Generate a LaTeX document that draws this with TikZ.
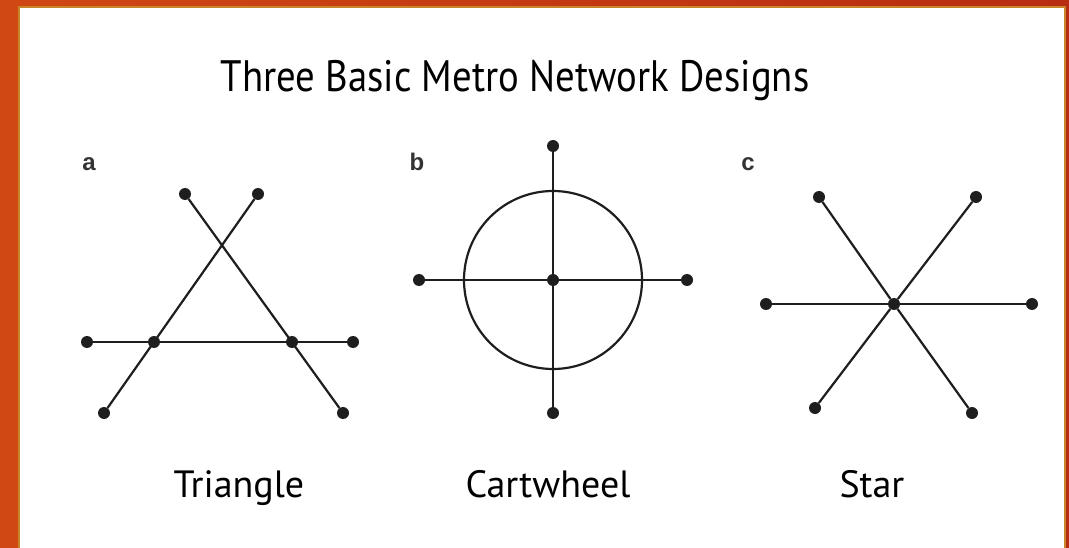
\documentclass[tikz,border=0pt]{standalone}
\usepackage{fontspec}
\setmainfont{PT Sans}
\newfontfamily\headfont[FakeStretch=0.88]{PT Sans}
\newfontfamily\figfont{Liberation Sans}
\usetikzlibrary{positioning}
\definecolor{corange}{HTML}{D04814}
\definecolor{cred}{HTML}{B82C12}
\definecolor{cgold}{HTML}{C8862A}
\definecolor{cink}{HTML}{1E1E1E}
\tikzset{
  every picture/.style={x=1pt, y=-1pt},
  dot/.style={circle, fill=cink, inner sep=0pt, minimum size=12pt},
  link/.style={draw=cink, line width=2.2pt},
  tag/.style={font=\figfont\bfseries\fontsize{24}{24}\selectfont, text=black!80, anchor=base},
  caption/.style={font=\fontsize{38}{38}\selectfont, anchor=base west},
  title/.style={font=\headfont\fontsize{44}{44}\selectfont, anchor=base},
}

\begin{document}
\begin{tikzpicture}
  \useasboundingbox (0,0) rectangle (1069,548);
  \clip (0,0) rectangle (1069,548);
  \fill[left color=corange, right color=cred] (0,0) rectangle (1069,548);
  \filldraw[fill=white, draw=cgold, line width=2.5pt] (19,7) rectangle (1065,570);

  \node[title] (head) at (515,92) {Three Basic Metro Network Designs};

  % a: triangle
  \node[tag] (taga) at (89,171) {a};
  \node[dot] (tl) at (185,194) {};
  \node[dot] (tr) at (258,194) {};
  \node[dot] (ml) at (87,342) {};
  \node[dot] (xl) at (154,342) {};
  \node[dot] (xr) at (292,342) {};
  \node[dot] (mr) at (353,342) {};
  \node[dot] (bl) at (104,413) {};
  \node[dot] (br) at (343,413) {};
  \draw[link] (tl) -- (br);
  \draw[link] (tr) -- (bl);
  \draw[link] (ml) -- (mr);
  \node[caption] (tri) at (170,497) {Triangle};

  % b: cartwheel
  \node[tag] (tagb) at (417,171) {b};
  \node[dot] (hub) at (553,280) {};
  \node[dot] (wn) at (553,146) {};
  \node[dot] (ws) at (553,413) {};
  \node[dot] (ww) at (419,280) {};
  \node[dot] (we) at (687,280) {};
  \draw[link] (wn) -- (ws);
  \draw[link] (ww) -- (we);
  \draw[link] (hub.center) circle[radius=89pt];
  \node[caption] (cart) at (462,497) {Cartwheel};

  % c: star
  \node[tag] (tagc) at (748,171) {c};
  \node[dot] (core) at (894,304) {};
  \node[dot] (s1) at (819,197) {};
  \node[dot] (s2) at (976,197) {};
  \node[dot] (s3) at (766,304) {};
  \node[dot] (s4) at (1032,304) {};
  \node[dot] (s5) at (815,408) {};
  \node[dot] (s6) at (972,413) {};
  \draw[link] (s1) -- (core) -- (s6);
  \draw[link] (s2) -- (core) -- (s5);
  \draw[link] (s3) -- (core) -- (s4);
  \node[caption] (star) at (836,497) {Star};
\end{tikzpicture}
\end{document}
